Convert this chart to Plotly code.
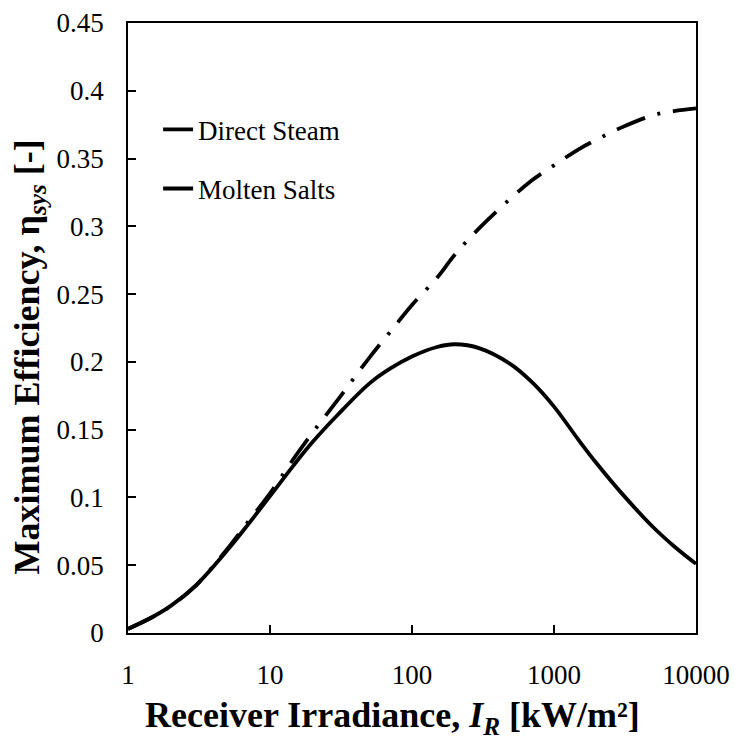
import plotly.graph_objects as go

# Receiver irradiance [kW/m2]
irradiance = [1, 1.5, 2, 3, 5, 7, 10, 15, 20, 30, 50, 70, 100, 150, 200, 300,
              500, 700, 1000, 1500, 2000, 3000, 5000, 7000, 10000]

# Maximum efficiency [-]
direct_steam = [0.003, 0.012, 0.020, 0.035, 0.062, 0.082, 0.103, 0.130, 0.148,
                0.172, 0.203, 0.222, 0.242, 0.262, 0.279, 0.299, 0.321, 0.334,
                0.345, 0.357, 0.364, 0.373, 0.382, 0.385, 0.387]
molten_salts = [0.003, 0.012, 0.020, 0.035, 0.061, 0.080, 0.101, 0.125, 0.141,
                0.161, 0.184, 0.195, 0.204, 0.211, 0.213, 0.210, 0.198, 0.185,
                0.167, 0.142, 0.125, 0.103, 0.078, 0.064, 0.051]

x_tickvals = [1, 10, 100, 1000, 10000]
x_ticktext = ["1", "10", "100", "1000", "10000"]
y_tickvals = [0, 0.05, 0.1, 0.15, 0.2, 0.25, 0.3, 0.35, 0.4, 0.45]
y_ticktext = ["0", "0.05", "0.1", "0.15", "0.2", "0.25", "0.3", "0.35", "0.4", "0.45"]

x_title = "<b>Receiver Irradiance, <i>I<sub>R</sub></i> [kW/m²]</b>"
y_title = "<b>Maximum Efficiency, η<sub><i>sys</i></sub> [-]</b>"

serif = "Liberation Serif, Times New Roman, serif"

fig = go.Figure()
fig.add_trace(go.Scatter(
    x=irradiance, y=direct_steam, mode="lines", name="Direct Steam",
    legendgroup="a",
    line=dict(color="black", width=3.8, dash="30px,13px,3px,13px", shape="spline", smoothing=1)))
fig.add_trace(go.Scatter(
    x=irradiance, y=molten_salts, mode="lines", name="Molten Salts",
    legendgroup="b",
    line=dict(color="black", width=3.8, shape="spline", smoothing=1)))

fig.update_layout(
    width=734, height=740,
    margin=dict(l=128, r=38, t=23, b=107, autoexpand=False),
    paper_bgcolor="white", plot_bgcolor="white",
    font=dict(family=serif, color="black", size=26),
    showlegend=True,
    legend=dict(x=0.053, y=0.865, xanchor="left", yanchor="top",
                traceorder="grouped", tracegroupgap=21,
                font=dict(family=serif, size=27, color="black"),
                bgcolor="rgba(0,0,0,0)"),
    annotations=[
        dict(text=x_title, xref="paper", yref="paper", x=0.465, y=-0.138,
             xanchor="center", yanchor="middle", showarrow=False,
             font=dict(family=serif, size=36, color="black")),
        dict(text=y_title, xref="paper", yref="paper", x=-0.174, y=0.452,
             xanchor="center", yanchor="middle", showarrow=False, textangle=-90,
             font=dict(family=serif, size=36, color="black")),
    ],
)
fig.update_xaxes(
    type="log", range=[0, 4], automargin=False,
    tickvals=x_tickvals, ticktext=x_ticktext,
    ticks="inside", ticklen=8, tickwidth=1.5, tickcolor="black",
    ticklabelstandoff=17,
    showline=True, linecolor="black", linewidth=1.5, mirror=True,
    showgrid=False, zeroline=False,
    tickfont=dict(family=serif, size=27, color="black"),
)
fig.update_yaxes(
    range=[0, 0.45], automargin=False,
    tickvals=y_tickvals, ticktext=y_ticktext,
    ticks="inside", ticklen=8, tickwidth=1.5, tickcolor="black",
    ticklabelstandoff=17,
    showline=True, linecolor="black", linewidth=1.5, mirror=True,
    showgrid=False, zeroline=False,
    tickfont=dict(family=serif, size=27, color="black"),
)

fig.write_html("out.html",
               config={"displayModeBar": False},
               post_script="document.body.style.margin='0';document.body.style.overflow='hidden';")
